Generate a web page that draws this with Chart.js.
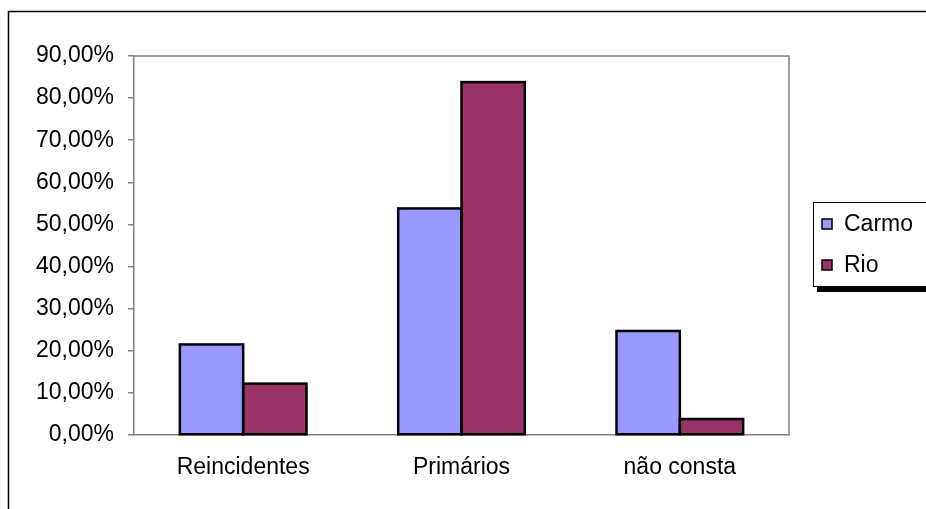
<!DOCTYPE html>
<html>
<head>
<meta charset="utf-8">
<script src="https://cdn.jsdelivr.net/npm/chart.js@4"></script>
<style>
  html, body { margin: 0; padding: 0; background: #fff; }
  #wrap { width: 926px; height: 509px; }
</style>
</head>
<body>
<div id="wrap"><canvas id="chart" width="926" height="509"></canvas></div>
<script>
const categories = ["Reincidentes", "Primários", "não consta"];
const carmo = [21.5, 53.8, 24.7];
const rio = [12.2, 83.8, 3.8];
const seriesNames = ["Carmo", "Rio"];
const seriesColors = ["#9999FF", "#993366"];

const fontFamily = "'Liberation Sans', Arial, sans-serif";

// black outlines around the bars, taken from the drawn elements
const barOutline = {
    id: "barOutline",
    afterDatasetsDraw(chart) {
        const ctx = chart.ctx;
        ctx.save();
        ctx.strokeStyle = "#000";
        ctx.lineWidth = 2.5;
        chart.data.datasets.forEach((ds, i) => {
            chart.getDatasetMeta(i).data.forEach(bar => {
                const p = bar.getProps(["x", "y", "base", "width"], true);
                ctx.strokeRect(p.x - p.width / 2, p.y, p.width, p.base - p.y);
            });
        });
        ctx.restore();
    }
};

// frame, plot border and legend box
const decor = {
    id: "decor",
    afterDraw(chart) {
        const ctx = chart.ctx;
        const a = chart.chartArea;
        ctx.save();
        ctx.strokeStyle = "#000";
        ctx.lineWidth = 1.5;
        ctx.beginPath();
        ctx.moveTo(8.5, 509);
        ctx.lineTo(8.5, 11.5);
        ctx.lineTo(926, 11.5);
        ctx.stroke();

        ctx.strokeStyle = "#808080";
        ctx.lineWidth = 1.5;
        ctx.beginPath();
        ctx.moveTo(a.left, a.top);
        ctx.lineTo(a.right, a.top);
        ctx.lineTo(a.right, a.bottom);
        ctx.stroke();

        // legend
        const lx = 813, ly = 202, lw = 120, lh = 84;
        ctx.fillStyle = "#000";
        ctx.fillRect(lx + 4, ly + lh, lw, 6);
        ctx.fillStyle = "#fff";
        ctx.fillRect(lx, ly, lw, lh);
        ctx.strokeStyle = "#000";
        ctx.lineWidth = 1;
        ctx.strokeRect(lx + 0.5, ly + 0.5, lw, lh);
        ctx.font = "23px " + fontFamily;
        ctx.textBaseline = "middle";
        chart.data.datasets.forEach((ds, i) => {
            const y = ly + 22 + i * 41;
            ctx.fillStyle = ds.backgroundColor;
            ctx.fillRect(lx + 9, y - 5, 10, 10);
            ctx.strokeStyle = "#000";
            ctx.lineWidth = 1.5;
            ctx.strokeRect(lx + 9, y - 5, 10, 10);
            ctx.fillStyle = "#000";
            ctx.fillText(ds.label, lx + 31, y + 1);
        });
        ctx.restore();
    }
};

const ctx = document.getElementById("chart").getContext("2d");
new Chart(ctx, {
    type: "bar",
    data: {
        labels: categories,
        datasets: [
            { label: seriesNames[0], data: carmo, backgroundColor: seriesColors[0], borderWidth: 0, inflateAmount: 0 },
            { label: seriesNames[1], data: rio, backgroundColor: seriesColors[1], borderWidth: 0, inflateAmount: 0 }
        ]
    },
    options: {
        responsive: false,
        animation: false,
        devicePixelRatio: 1,
        layout: { padding: { left: 0, right: 137, top: 56, bottom: 0 } },
        plugins: { legend: { display: false }, tooltip: { enabled: false } },
        datasets: { bar: { categoryPercentage: 0.58, barPercentage: 1 } },
        scales: {
            x: {
                grid: { display: false },
                border: { color: "#808080", width: 1.5 },
                ticks: { color: "#000", font: { family: fontFamily, size: 23 }, padding: 11 },
                afterFit(scale) { scale.height = 74; }
            },
            y: {
                min: 0, max: 90,
                grid: { drawOnChartArea: false, tickLength: 6, color: "#808080", lineWidth: 1.5 },
                border: { color: "#808080", width: 1.5 },
                ticks: {
                    stepSize: 10,
                    color: "#000",
                    font: { family: fontFamily, size: 23 },
                    padding: 14,
                    callback: v => v.toFixed(2).replace(".", ",") + "%"
                },
                afterFit(scale) { scale.width = 134; }
            }
        }
    },
    plugins: [barOutline, decor]
});
</script>
</body>
</html>
